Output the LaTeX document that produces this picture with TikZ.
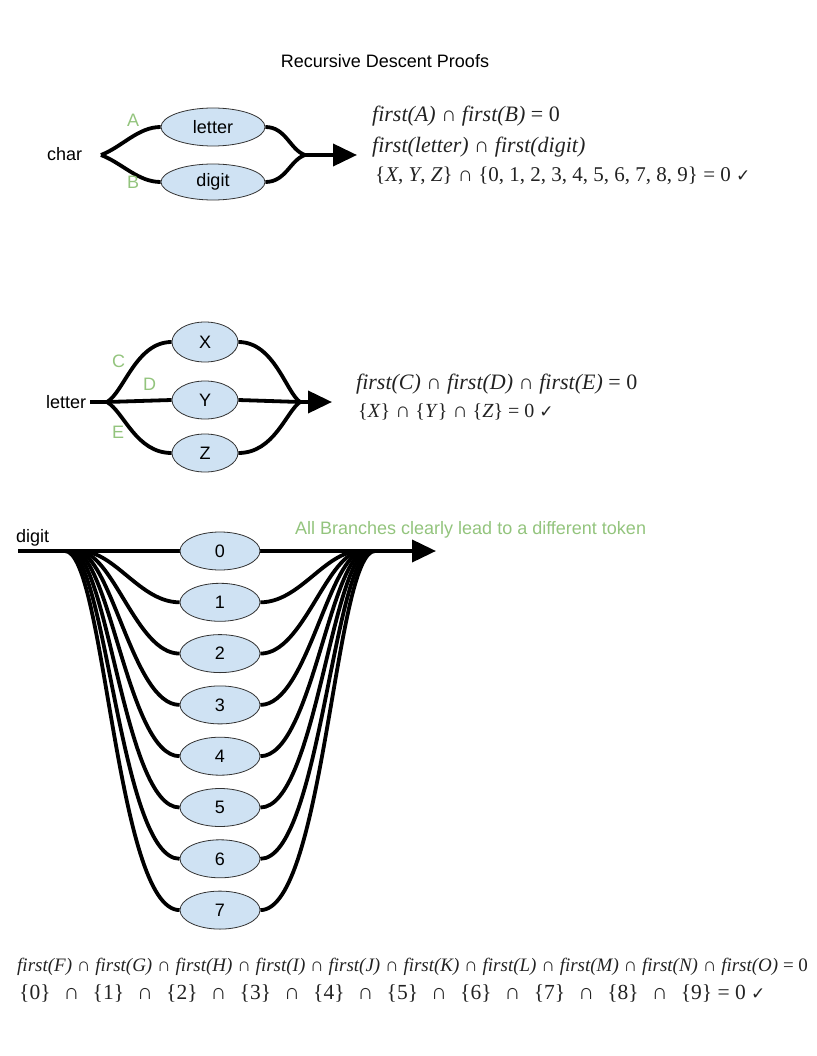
\documentclass[tikz,border=0pt]{standalone}
\usepackage{fontspec}
\setmainfont{Liberation Serif}
\setsansfont{Liberation Sans}
\newfontfamily\symf{DejaVu Sans}
\usetikzlibrary{arrows.meta,shapes.geometric,backgrounds}
\definecolor{nodefill}{HTML}{CFE2F3}
\definecolor{lblgreen}{HTML}{93C47D}
\definecolor{ink}{HTML}{222222}
\newcommand{\fst}[1]{\textit{first(#1)}}
\newcommand{\cp}{{\sffamily\bfseries\fontsize{21}{15}\selectfont ∩}}
\newcommand{\cps}{{\sffamily\bfseries\fontsize{19}{14}\selectfont ∩}}
\newcommand{\cpb}{{\sffamily\bfseries\fontsize{22}{16}\selectfont ∩}}
\newcommand{\wsp}{\hspace{0.36em}}
\newcommand{\chk}{{\symf\fontsize{17}{17}\selectfont ✓}}
\tikzset{
  conn/.style={line width=3.8pt, black},
  arr/.style={conn, -{Triangle[length=24pt,width=22pt]}},
  ell/.style={ellipse, draw=black!80, line width=0.8pt, fill=nodefill, inner sep=0pt,
    font=\sffamily\fontsize{18}{20}\selectfont},
  lbl/.style={font=\sffamily\fontsize{18}{20}\selectfont, anchor=base west, inner sep=0pt},
  glbl/.style={lbl, text=lblgreen},
  formula/.style={anchor=base west, inner sep=0pt, text=ink, font=\fontsize{21}{24}\selectfont},
}
\begin{document}
\begin{tikzpicture}[x=1pt,y=-1pt]
\useasboundingbox (0,0) rectangle (816,1056);
% title
\node[lbl, anchor=base] (title) at (385,68) {Recursive Descent Proofs};

% ---------- section 1 ----------
\node[lbl] (charL) at (47,161) {char};
\node[ell, minimum width=104pt, minimum height=38pt] (letterN) at (213,127) {letter};
\node[ell, minimum width=104pt, minimum height=36pt] (digitN) at (213,182) {digit};
\coordinate (s1) at (101,155);
\coordinate (m1) at (305,155);
\coordinate (t1) at (357,155);
\node[glbl] (lA) at (127,127) {A};
\node[glbl] (lB) at (127,189) {B};
\begin{pgfonlayer}{background}
\draw[conn] (s1) .. controls (122,147) and (138,127) .. (letterN.west);
\draw[conn] (s1) .. controls (122,163) and (138,182) .. (digitN.west);
\draw[conn] (letterN.east) .. controls (286,127) and (290,150) .. (m1);
\draw[conn] (digitN.east) .. controls (286,182) and (290,160) .. (m1);
\draw[arr] (m1) -- (t1);
\end{pgfonlayer}
\node[formula, font=\fontsize{22}{24}\selectfont] (f1a) at (372,122) {\fst{A} \cp{} \fst{B} = 0};
\node[formula, font=\fontsize{22}{24}\selectfont] (f1b) at (372,153) {\fst{letter} \cp{} \fst{digit}};
\node[formula] (f1c) at (375,182) {\{\textit{X}, \textit{Y}, \textit{Z}\} \cp{} \{0, 1, 2, 3, 4, 5, 6, 7, 8, 9\} = 0 \chk};

% ---------- section 2 ----------
\node[lbl] (letterL) at (46,408) {letter};
\node[ell, minimum width=66pt, minimum height=40pt] (X) at (205,342) {X};
\node[ell, minimum width=66pt, minimum height=38pt] (Y) at (205,400) {Y};
\node[ell, minimum width=66pt, minimum height=38pt] (Z) at (205,453) {Z};
\coordinate (l2) at (90,402);
\coordinate (s2) at (107,402);
\coordinate (m2) at (300,402);
\coordinate (t2) at (332,402);
\node[glbl] (lC) at (112,367) {C};
\node[glbl] (lD) at (143,390) {D};
\node[glbl] (lE) at (112,438) {E};
\begin{pgfonlayer}{background}
\draw[conn] (l2) -- (s2) -- (Y.west);
\draw[conn] (Y.east) -- (m2);
\draw[arr] (m2) -- (t2);
\draw[conn] (s2) .. controls (124,392) and (136,342) .. (X.west);
\draw[conn] (s2) .. controls (124,412) and (136,453) .. (Z.west);
\draw[conn] (X.east) .. controls (274,342) and (286,392) .. (m2);
\draw[conn] (Z.east) .. controls (274,453) and (286,412) .. (m2);
\end{pgfonlayer}
\node[formula, font=\fontsize{22}{24}\selectfont] (f2a) at (356,389) {\fst{C} \cp{} \fst{D} \cp{} \fst{E} = 0};
\node[formula, font=\fontsize{20}{24}\selectfont] (f2b) at (358,417) {\{\textit{X}\} \cp{} \{\textit{Y}\} \cp{} \{\textit{Z}\} = 0 \chk};

% ---------- section 3 ----------
\node[lbl] (digitL) at (16,542) {digit};
\node[glbl] (note) at (295,534) {All Branches clearly lead to a different token};
\foreach \i in {0,...,7} {
  \node[ell, minimum width=80pt, minimum height=38pt] (d\i) at (220,{551+51.3*\i}) {\i};
}
\coordinate (l3) at (18,551);
\coordinate (t3) at (436,551);
\begin{pgfonlayer}{background}
\draw[arr] (l3) -- (t3);
\foreach \i in {1,...,7} {
  \pgfmathsetmacro{\sx}{80-2.5*(\i-1)}
  \pgfmathsetmacro{\ax}{115-1.7*(\i-1)}
  \pgfmathsetmacro{\bx}{140-4*(\i-1)}
  \pgfmathsetmacro{\yy}{551+51.3*\i}
  \pgfmathsetmacro{\ex}{360+2.5*(\i-1)}
  \pgfmathsetmacro{\cx}{325+1.7*(\i-1)}
  \pgfmathsetmacro{\dx}{300+4*(\i-1)}
  \draw[conn] (\sx,551) .. controls (\ax,551) and (\bx,\yy) .. (d\i.west);
  \draw[conn] (d\i.east) .. controls (\dx,\yy) and (\cx,551) .. (\ex,551);
}
\end{pgfonlayer}

% ---------- bottom formulas ----------
\node[formula, font=\fontsize{19}{22}\selectfont] (f3a) at (17,971)
  {\fst{F} \cps{} \fst{G} \cps{} \fst{H} \cps{} \fst{I} \cps{} \fst{J} \cps{} \fst{K} \cps{} \fst{L} \cps{} \fst{M} \cps{} \fst{N} \cps{} \fst{O} = 0};
\node[formula, font=\fontsize{21.5}{26}\selectfont] (f3b) at (19,999)
  {\{0\} \wsp\cpb\wsp{} \{1\} \wsp\cpb\wsp{} \{2\} \wsp\cpb\wsp{} \{3\} \wsp\cpb\wsp{} \{4\} \wsp\cpb\wsp{} \{5\} \wsp\cpb\wsp{} \{6\} \wsp\cpb\wsp{} \{7\} \wsp\cpb\wsp{} \{8\} \wsp\cpb\wsp{} \{9\} = 0 \chk};
\end{tikzpicture}
\end{document}
